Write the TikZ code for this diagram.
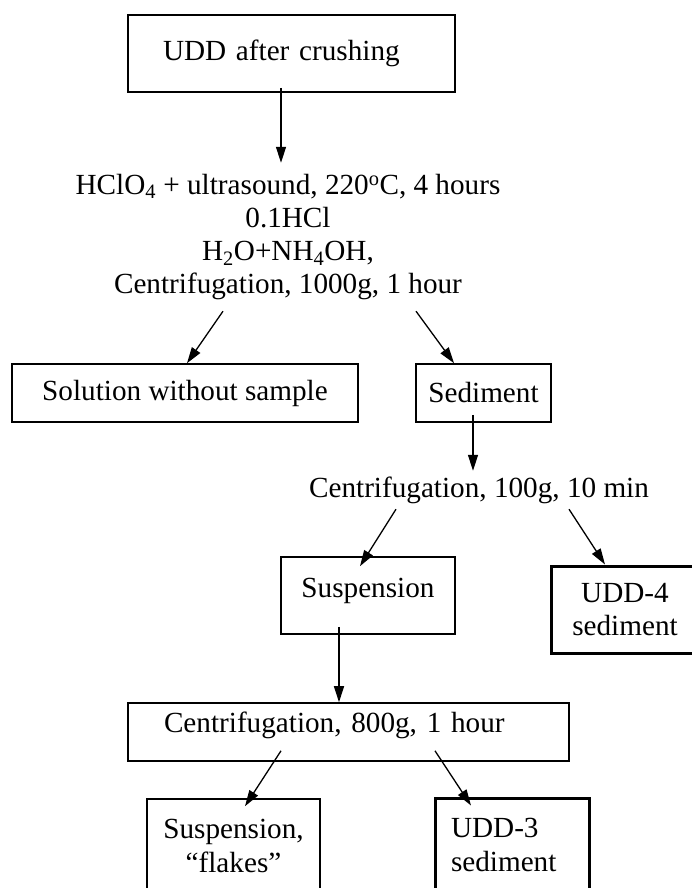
\documentclass[tikz,border=0pt]{standalone}
\usepackage{fontspec}
\setmainfont{Liberation Serif}
\usepackage{tikz}
\usetikzlibrary{arrows.meta}

\begin{document}
\begin{tikzpicture}[x=1pt,y=-1pt,
    font=\fontsize{29.2}{33.3}\selectfont,
    box/.style={draw,line width=1.6pt,align=center},
    heavybox/.style={draw,line width=3pt,align=center},
    txt/.style={inner sep=0pt,align=center},
    arr/.style={-{Triangle[length=16pt,width=10pt]},line width=1.3pt}]
        \useasboundingbox (0,0) rectangle (692,888);
        \clip (0,0) rectangle (692,888);
        % first stage
        \node[box,text width=257pt,inner xsep=35pt,minimum height=77pt,align=left] (crush) at (291.5,53.5) {UDD after crushing};
        \node[txt,minimum height=148pt] (treat) at (288,237)
             {HClO\textsubscript{4} + ultrasound, 220\textsuperscript{o}C, 4 hours\\0.1HCl\\H\textsubscript{2}O+NH\textsubscript{4}OH,\\Centrifugation, 1000g, 1 hour};
        \draw[arr] ([xshift=-10.5pt,yshift=5pt]crush.south) -- ([xshift=-10.5pt]crush.south |- treat.north);
        \node[box,minimum width=346pt,minimum height=58pt] (soln) at (185,393) {Solution without sample};
        \node[box,minimum width=135pt,minimum height=58pt] (sed) at (483.5,393) {Sediment};
        \draw[arr] ([xshift=-65pt]treat.south) -- ([xshift=2pt]soln.north);
        \draw[arr] ([xshift=128pt]treat.south) -- ([xshift=-29.5pt]sed.north);
        % second stage
        \node[txt,minimum height=38pt] (c100) at (479,490) {Centrifugation, 100g, 10 min};
        \draw[arr] ([xshift=-10.5pt,yshift=8pt]sed.south) -- ([xshift=-10.5pt]sed.south |- c100.north);
        \node[box,minimum width=174pt,minimum height=77pt,text depth=15pt] (susp) at (368,595.5) {Suspension};
        \node[heavybox,minimum width=148pt,minimum height=87pt] (udd4) at (625,609.5) {UDD-4\\sediment};
        \draw[arr] ([xshift=-83pt]c100.south) -- ([xshift=-8pt,yshift=-10pt]susp.north);
        \draw[arr] ([xshift=90pt]c100.south) -- ([xshift=-20pt]udd4.north);
        % third stage
        \node[box,text width=369pt,inner xsep=36pt,inner ysep=0pt,minimum height=58pt,align=left,text depth=19pt] (c800) at (348.5,732) {Centrifugation, 800g, 1 hour};
        \draw[arr] ([xshift=-29pt,yshift=8pt]susp.south) -- ([xshift=-29pt]susp.south |- c800.north);
        \node[box,minimum width=173pt,minimum height=94pt] (flk) at (233.5,846) {Suspension,\\ “flakes”};
        \node[heavybox,text width=122pt,inner xsep=16pt,minimum height=94pt,align=left] (udd3) at (512,845) {UDD-3\\sediment};
        \draw[arr] ([xshift=-67.5pt,yshift=11pt]c800.south) -- ([xshift=11.5pt,yshift=-8pt]flk.north);
        \draw[arr] ([xshift=86.5pt,yshift=11pt]c800.south) -- ([xshift=-41pt,yshift=-9pt]udd3.north);
\end{tikzpicture}
\end{document}
